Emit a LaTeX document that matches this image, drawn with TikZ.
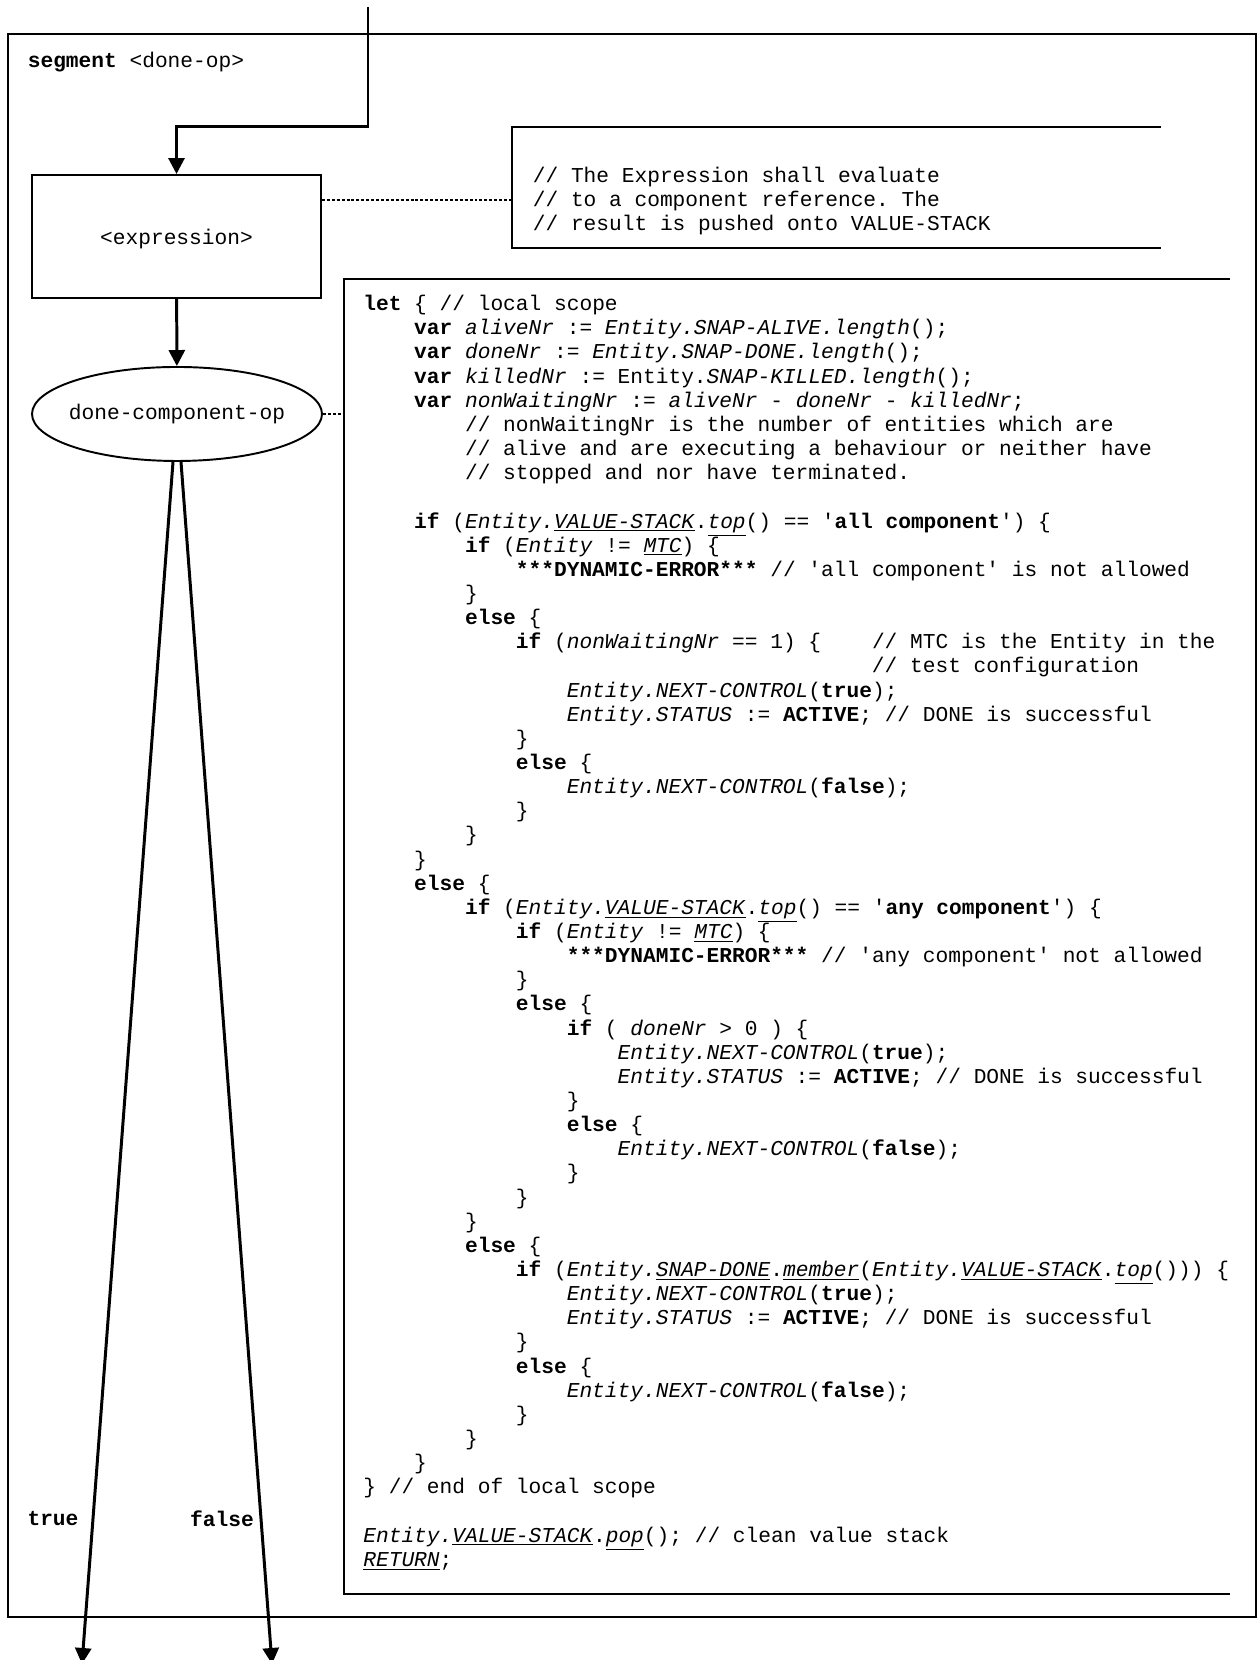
\documentclass[tikz,border=0pt]{standalone}
\usepackage{fontspec}
\setmonofont{Liberation Mono}
\usepackage{tikz}
\usetikzlibrary{arrows.meta,positioning,shapes.geometric,calc}

\newcommand\codefont{\fontsize{12.06}{13.74}\selectfont\ttfamily}
\newcommand\ind[1]{\hspace*{#1\dimexpr0.6em\relax}}
\newcommand\kw[1]{\textbf{#1}}
\newcommand\vn[1]{\textit{#1}}
\newcommand\uv[1]{\underline{\textit{#1}}}

\begin{document}
\begin{tikzpicture}[
          every node/.style={font=\codefont},
          frame/.style={line width=1.1pt},
          flow/.style={line width=1.7pt,-{Triangle[length=3.2mm,width=3.2mm]}},
          note link/.style={dashed,line width=0.6pt,dash pattern=on 1.7pt off 1.1pt},
          block/.style={draw,line width=1.1pt,minimum width=5.78cm,minimum height=2.46cm,
                        inner sep=0pt,text depth=0pt},
          opnode/.style={draw,ellipse,line width=1.1pt,minimum width=5.8cm,minimum height=1.88cm,
                         inner xsep=-4pt,inner ysep=0pt},
          codetext/.style={align=left,inner sep=0pt,anchor=north west},
      ]
        \useasboundingbox (0,0) rectangle (25.14,33.2);

        % segment frame
        \draw[frame] (0.16,0.86) rectangle (25.12,32.52);
        \node[anchor=west,inner sep=0pt] (title) at (0.55,31.95) {\textbf{segment} <done-op>};

        \coordinate (entry) at (7.36,33.06);
        \node[block] (expr) at (3.53,28.47) {<expression>};
        \node[opnode] (op) at (3.54,24.92) {done-component-op};

        \draw[flow] (entry) -- ++(0,-2.4) -| (expr.north);
        \draw[flow] (expr) -- (op);

        % comment symbol for the expression
        \draw[frame] (23.22,30.66) -- (10.24,30.66) -- (10.24,28.24) -- (23.22,28.24);
        \coordinate (notein) at (10.24,29.2);
        \draw[note link] (expr.east |- notein) -- (notein);
        \node[codetext] (note) at (10.65,29.865)
          {// The Expression shall evaluate\\
           // to a component reference. The\\
           // result is pushed onto VALUE-STACK};

        % task box for the operation
        \draw[frame] (24.6,27.62) -- (6.88,27.62) -- (6.88,1.32) -- (24.6,1.32);
        \coordinate (codein) at (6.88,24.92);
        \draw[note link] (op) -- (codein);
        \node[codetext] (code) at (7.26,27.30) {%
\kw{let} \{ // local scope\\
\ind{4}\kw{var} \vn{aliveNr} := \vn{Entity.SNAP-ALIVE.length}();\\
\ind{4}\kw{var} \vn{doneNr} := \vn{Entity.SNAP-DONE.length}();\\
\ind{4}\kw{var} \vn{killedNr} := Entity.\vn{SNAP-KILLED.length}();\\
\ind{4}\kw{var} \vn{nonWaitingNr} := \vn{aliveNr} - \vn{doneNr} - \vn{killedNr};\\
\ind{8}// nonWaitingNr is the number of entities which are\\
\ind{8}// alive and are executing a behaviour or neither have\\
\ind{8}// stopped and nor have terminated.\\
\mbox{}\\
\ind{4}\kw{if} (\vn{Entity.}\uv{VALUE-STACK}.\uv{top}() == '\kw{all component}') \{\\
\ind{8}\kw{if} (\vn{Entity} != \uv{MTC}) \{\\
\ind{12}\kw{***DYNAMIC-ERROR***} // 'all component' is not allowed\\
\ind{8}\}\\
\ind{8}\kw{else} \{\\
\ind{12}\kw{if} (\vn{nonWaitingNr} == 1) \{\ind{4}// MTC is the Entity in the\\
\ind{40}// test configuration\\
\ind{16}\vn{Entity.NEXT-CONTROL}(\kw{true});\\
\ind{16}\vn{Entity.STATUS} := \kw{ACTIVE}; // DONE is successful\\
\ind{12}\}\\
\ind{12}\kw{else} \{\\
\ind{16}\vn{Entity.NEXT-CONTROL}(\kw{false});\\
\ind{12}\}\\
\ind{8}\}\\
\ind{4}\}\\
\ind{4}\kw{else} \{\\
\ind{8}\kw{if} (\vn{Entity.}\uv{VALUE-STACK}.\uv{top}() == '\kw{any component}') \{\\
\ind{12}\kw{if} (\vn{Entity} != \uv{MTC}) \{\\
\ind{16}\kw{***DYNAMIC-ERROR***} // 'any component' not allowed\\
\ind{12}\}\\
\ind{12}\kw{else} \{\\
\ind{16}\kw{if} ( \vn{doneNr} > 0 ) \{\\
\ind{20}\vn{Entity.NEXT-CONTROL}(\kw{true});\\
\ind{20}\vn{Entity.STATUS} := \kw{ACTIVE}; // DONE is successful\\
\ind{16}\}\\
\ind{16}\kw{else} \{\\
\ind{20}\vn{Entity.NEXT-CONTROL}(\kw{false});\\
\ind{16}\}\\
\ind{12}\}\\
\ind{8}\}\\
\ind{8}\kw{else} \{\\
\ind{12}\kw{if} (\vn{Entity.}\uv{SNAP-DONE}.\uv{member}(\vn{Entity.}\uv{VALUE-STACK}.\uv{top}())) \{\\
\ind{16}\vn{Entity.NEXT-CONTROL}(\kw{true});\\
\ind{16}\vn{Entity.STATUS} := \kw{ACTIVE}; // DONE is successful\\
\ind{12}\}\\
\ind{12}\kw{else} \{\\
\ind{16}\vn{Entity.NEXT-CONTROL}(\kw{false});\\
\ind{12}\}\\
\ind{8}\}\\
\ind{4}\}\\
\} // end of local scope\\
\mbox{}\\
\vn{Entity.}\uv{VALUE-STACK}.\uv{pop}(); // clean value stack\\
\uv{RETURN};};

        % outgoing branches
        \coordinate (trueend) at (1.64,-0.08);
        \coordinate (falseend) at (5.44,-0.08);
        \draw[flow] ([xshift=-0.08cm]op.south) -- (trueend);
        \draw[flow] ([xshift=0.08cm]op.south) -- (falseend);
        \node (truelbl) at (1.06,2.82) {\textbf{true}};
        \node (falselbl) at (4.44,2.82) {\textbf{false}};
      \end{tikzpicture}
\end{document}
